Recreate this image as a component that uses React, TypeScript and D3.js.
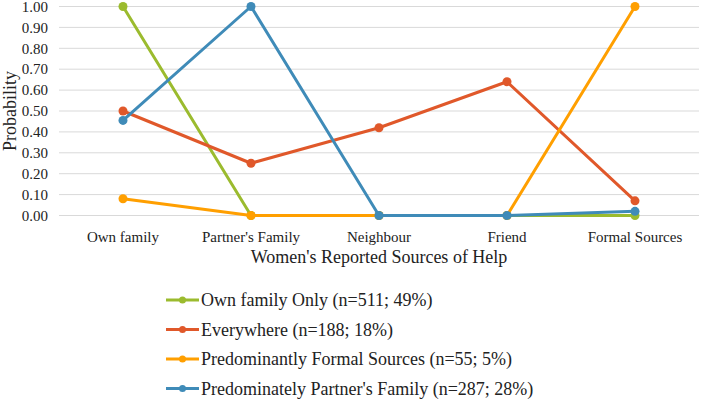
import * as d3 from "d3";

const categories = ["Own family", "Partner's Family", "Neighbour", "Friend", "Formal Sources"];
const yTicks = [0, 0.1, 0.2, 0.3, 0.4, 0.5, 0.6, 0.7, 0.8, 0.9, 1.0];

const seriesNames = [
  "Own family Only (n=511; 49%)",
  "Everywhere (n=188; 18%)",
  "Predominantly Formal Sources (n=55; 5%)",
  "Predominately Partner's Family (n=287; 28%)",
];
const seriesColors = ["#9bbb2e", "#e0582a", "#ff9f00", "#3f8bb8"];

const ownFamilyOnly = [1.0, 0.0, 0.0, 0.0, 0.0];
const everywhere = [0.5, 0.25, 0.42, 0.64, 0.07];
const formalSources = [0.08, 0.0, 0.0, 0.0, 1.0];
const partnersFamily = [0.455, 1.0, 0.0, 0.0, 0.02];

const seriesValues = [ownFamilyOnly, everywhere, formalSources, partnersFamily];

const width = 701;
const height = 401;
const margin = { top: 6.5, right: 2, left: 59, bottom: 185.5 };
const chartWidth = width - margin.left - margin.right;
const chartHeight = height - margin.top - margin.bottom;
const fontStyle = { fontFamily: '"Liberation Serif"' };

const x = d3.scaleBand<string>().domain(categories).range([0, chartWidth]);
const y = d3.scaleLinear().domain([0, 1]).range([chartHeight, 0]);
const cx = (c: string) => (x(c) || 0) + x.bandwidth() / 2;

const line = d3
  .line<number>()
  .x((_, i) => cx(categories[i]))
  .y((d) => y(d));

const App = () => {
  return (
    <div style={{ position: "absolute", left: 0, top: 0 }}>
      <svg width={width} height={height} style={{ display: "block", background: "#fff" }}>
        <g transform={`translate(${margin.left},${margin.top})`}>
          {yTicks.map((t) => (
            <line key={`g${t}`} x1={0} x2={chartWidth} y1={y(t)} y2={y(t)} stroke="#d9d9d9" strokeWidth={1} />
          ))}
          {yTicks.map((t) => (
            <text
              key={`t${t}`}
              x={-11}
              y={y(t)}
              dy="0.35em"
              textAnchor="end"
              fontSize={15}
              fill="#222"
              style={fontStyle}
            >
              {t.toFixed(2)}
            </text>
          ))}
          {categories.map((c) => (
            <text
              key={c}
              x={cx(c)}
              y={chartHeight + 26}
              textAnchor="middle"
              fontSize={15}
              fill="#222"
              style={fontStyle}
            >
              {c}
            </text>
          ))}
          {seriesValues.map((vals, si) => (
            <g key={si}>
              <path
                d={line(vals) || ""}
                fill="none"
                stroke={seriesColors[si]}
                strokeWidth={3}
                strokeLinejoin="round"
              />
              {vals.map((v, i) => (
                <circle key={i} cx={cx(categories[i])} cy={y(v)} r={4.5} fill={seriesColors[si]} />
              ))}
            </g>
          ))}
        </g>
        <text
          transform={`translate(16, ${margin.top + chartHeight / 2}) rotate(-90)`}
          textAnchor="middle"
          fontSize={18}
          fill="#222"
          style={fontStyle}
        >
          Probability
        </text>
        <text
          x={margin.left + chartWidth / 2}
          y={263}
          textAnchor="middle"
          fontSize={18}
          fill="#222"
          style={fontStyle}
        >
          Women's Reported Sources of Help
        </text>
        <g transform="translate(166, 300)">
          {seriesNames.map((name, i) => (
            <g key={name} transform={`translate(0, ${i * 29.5})`}>
              <line x1={0} x2={33} y1={0} y2={0} stroke={seriesColors[i]} strokeWidth={3} />
              <circle cx={16.5} cy={0} r={3.5} fill={seriesColors[i]} />
              <text x={35} y={0} dy="0.35em" fontSize={18} fill="#222" style={fontStyle}>
                {name}
              </text>
            </g>
          ))}
        </g>
      </svg>
    </div>
  );
};

export default App;
